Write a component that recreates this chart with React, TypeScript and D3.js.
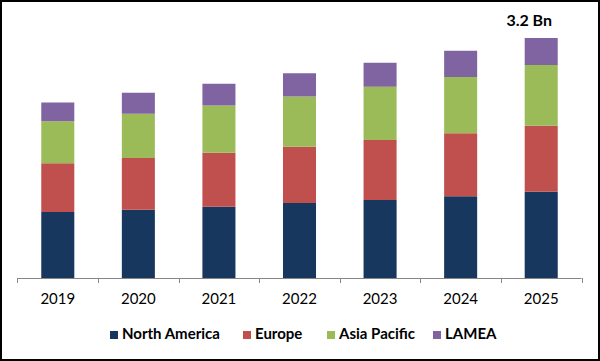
import { useMemo } from 'react'
import * as d3 from 'd3'

const years = ['2019', '2020', '2021', '2022', '2023', '2024', '2025']
const regions = ['North America', 'Europe', 'Asia Pacific', 'LAMEA']
// market size by region, USD Bn
const northAmerica = [0.88, 0.91, 0.95, 1.0, 1.04, 1.09, 1.15]
const europe = [0.65, 0.69, 0.72, 0.75, 0.8, 0.84, 0.88]
const asiaPacific = [0.56, 0.59, 0.63, 0.67, 0.71, 0.75, 0.81]
const lamea = [0.25, 0.28, 0.29, 0.31, 0.32, 0.35, 0.36]
const topLabel = '3.2 Bn'

const colors = ['#17375E', '#C0504D', '#9BBB59', '#8064A2']
const font = 'Lato, "Open Sans", sans-serif'

const W = 600
const H = 361

export default function App() {
  const x = useMemo(
    () => d3.scaleBand<string>().domain(years).range([17.5, 581.5]).paddingInner(0.59).paddingOuter(0.295),
    []
  )
  const y = useMemo(() => d3.scaleLinear().domain([0, 3.5]).range([278, 15.5]), [])

  const table = years.map((year, i) => ({
    year,
    'North America': northAmerica[i],
    Europe: europe[i],
    'Asia Pacific': asiaPacific[i],
    LAMEA: lamea[i],
  }))
  const series = d3.stack<(typeof table)[number]>().keys(regions)(table)

  const step = x.step()
  const half = x.bandwidth() / 2
  const boundaries = [...years.map((yr) => (x(yr) ?? 0) + half - step / 2), (x(years[years.length - 1]) ?? 0) + half + step / 2]

  const last = series[series.length - 1]
  const lastYear = years[years.length - 1]

  // legend layout
  const legendX = [110, 243, 327, 433]

  return (
    <div style={{ position: 'fixed', left: 0, top: 0 }}>
      <svg width={W} height={H} style={{ display: 'block' }}>
        <rect x={0} y={0} width={W} height={H} fill="#fff" />

        {series.map((s, si) => (
          <g key={s.key} fill={colors[si]}>
            {s.map((d) => (
              <rect
                key={d.data.year}
                x={x(d.data.year)}
                y={y(d[1])}
                width={x.bandwidth()}
                height={y(d[0]) - y(d[1])}
              />
            ))}
          </g>
        ))}

        {/* axis */}
        <line x1={boundaries[0]} x2={boundaries[boundaries.length - 1]} y1={y(0) + 0.5} y2={y(0) + 0.5} stroke="#868686" />
        {boundaries.map((b, i) => (
          <line key={i} x1={Math.round(b) + 0.5} x2={Math.round(b) + 0.5} y1={y(0)} y2={y(0) + 5} stroke="#868686" />
        ))}
        {years.map((yr) => (
          <text
            key={yr}
            x={(x(yr) ?? 0) + half}
            y={304}
            textAnchor="middle"
            fontFamily={font}
            fontSize={15}
            fill="#000"
          >
            {yr}
          </text>
        ))}

        {/* total label */}
        <text
          x={(x(lastYear) ?? 0) + half - 12}
          y={y(last[last.length - 1][1]) - 12}
          textAnchor="middle"
          fontFamily={font}
          fontWeight="bold"
          fontSize={16}
          fill="#000"
        >
          {topLabel}
        </text>

        {/* legend */}
        {regions.map((r, i) => (
          <g key={r}>
            <rect x={legendX[i]} y={331} width={8} height={8} fill={colors[i]} />
            <text x={legendX[i] + 12} y={339} fontFamily={font} fontWeight="bold" fontSize={15} fill="#000">
              {r}
            </text>
          </g>
        ))}

        <rect x={1} y={1} width={W - 2} height={H - 2} fill="none" stroke="#000" strokeWidth={2} />
      </svg>
    </div>
  )
}
